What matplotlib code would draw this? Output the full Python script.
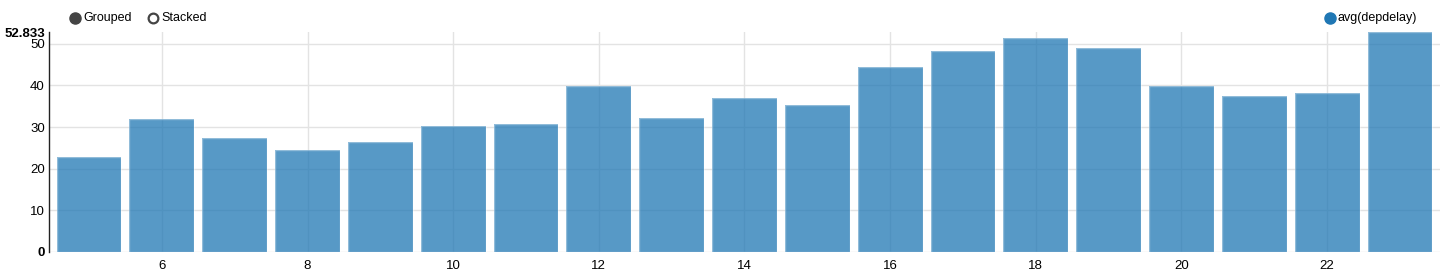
import numpy as np
import matplotlib
matplotlib.use('Agg')
import matplotlib.pyplot as plt
from matplotlib.lines import Line2D

plt.rcParams['font.family'] = ['Liberation Sans', 'DejaVu Sans']

# 数据
hours = [5, 6, 7, 8, 9, 10, 11, 12, 13, 14, 15, 16, 17, 18, 19, 20, 21, 22, 23]
avg_depdelay = [22.8, 31.9, 27.4, 24.4, 26.3, 30.2, 30.7, 39.8, 32.1, 37.0,
                35.4, 44.5, 48.3, 51.4, 48.9, 39.8, 37.4, 38.3, 52.833]
x_ticks = [6, 8, 10, 12, 14, 16, 18, 20, 22]
y_ticks = [0, 10, 20, 30, 40, 50]
y_max = 52.833
series_name = 'avg(depdelay)'

blue = '#1f77b4'
grid_c = '#e3e3e3'

fig = plt.figure(figsize=(14.46, 2.75), dpi=100)
ax = fig.add_axes([49 / 1446, 23 / 275, (1440 - 49) / 1446, (252 - 32) / 275])

# 网格
for yv in y_ticks:
    ax.axhline(yv, color=grid_c, lw=1, zorder=0)
for xv in x_ticks:
    ax.axvline(xv, color=grid_c, lw=1, zorder=0)

ax.bar(hours, avg_depdelay, width=0.89, facecolor=blue, alpha=0.75,
       edgecolor='none', zorder=2)
ax.bar(hours, avg_depdelay, width=0.89, facecolor='none',
       edgecolor=(1, 1, 1, 0.35), lw=1, zorder=3)

ax.set_xlim(4.45, 23.55)
ax.set_ylim(0, y_max)
ax.set_xticks(x_ticks)
ax.set_xticklabels([str(v) for v in x_ticks], fontsize=9.5)
yt = y_ticks + [y_max]
ax.set_yticks(yt)
ax.set_yticklabels([str(v) for v in y_ticks] + ['52.833'], fontsize=9.5)
for lbl in ax.get_yticklabels():
    if lbl.get_text() in ('0', '52.833'):
        lbl.set_fontweight('bold')
ax.tick_params(length=0, pad=3)
ax.tick_params(axis='x', pad=6)

for s in ['top', 'right', 'bottom']:
    ax.spines[s].set_visible(False)
ax.spines['left'].set_color('#222222')
ax.spines['left'].set_linewidth(1)

# 图例
ty = 1 - 18 / 275
fig.add_artist(Line2D([75 / 1446], [ty], marker='o', ms=8, color='#444444',
                      mec='#444444', transform=fig.transFigure))
fig.text(83 / 1446, ty, 'Grouped', fontsize=9, va='center', ha='left')
fig.add_artist(Line2D([153 / 1446], [ty], marker='o', ms=7, mfc='white',
                      mec='#444444', mew=1.6, transform=fig.transFigure))
fig.text(161 / 1446, ty, 'Stacked', fontsize=9, va='center', ha='left')
fig.add_artist(Line2D([1330 / 1446], [ty], marker='o', ms=8, color=blue,
                      mec=blue, transform=fig.transFigure))
fig.text(1338 / 1446, ty, series_name, fontsize=9, va='center', ha='left')

fig.savefig('out.png', dpi=100)
plt.close(fig)
